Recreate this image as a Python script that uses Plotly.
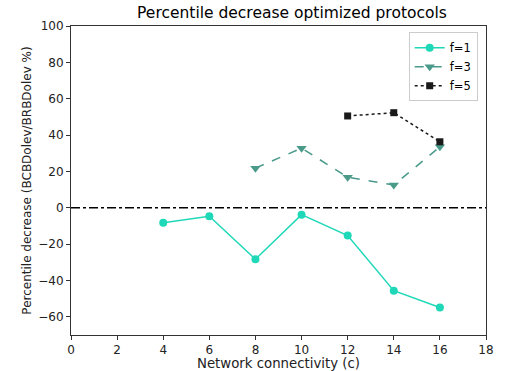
import plotly.graph_objects as go

x1 = [4, 6, 8, 10, 12, 14, 16]
f1 = [-8.3, -4.7, -28.3, -3.8, -15.3, -45.6, -54.9]
x3 = [8, 10, 12, 14, 16]
f3 = [21.8, 32.8, 16.8, 12.5, 33.5]
x5 = [12, 14, 16]
f5 = [50.5, 52.3, 36.3]
xticks = [0, 2, 4, 6, 8, 10, 12, 14, 16, 18]
yticks = [-60, -40, -20, 0, 20, 40, 60, 80, 100]

fig = go.Figure()
fig.add_trace(go.Scatter(x=[0, 18], y=[0, 0], mode="lines", showlegend=False,
                         line=dict(color="black", width=1.5, dash="dashdot"), hoverinfo="skip"))
fig.add_trace(go.Scatter(x=x1, y=f1, mode="lines+markers", name="f=1",
                         line=dict(color="#1fd8b8", width=1.5),
                         marker=dict(symbol="circle", size=8, color="#1fd8b8")))
fig.add_trace(go.Scatter(x=x3, y=f3, mode="lines+markers", name="f=3",
                         line=dict(color="#4a9a8a", width=1.5, dash="dash"),
                         marker=dict(symbol="triangle-down", size=9, color="#4a9a8a")))
fig.add_trace(go.Scatter(x=x5, y=f5, mode="lines+markers", name="f=5",
                         line=dict(color="#1a1a1a", width=1.5, dash="dot"),
                         marker=dict(symbol="square", size=7, color="#1a1a1a")))

axis_common = dict(showline=True, linecolor="#333333", linewidth=1, mirror=True,
                   ticks="outside", ticklen=4, tickcolor="#333333", showgrid=False,
                   zeroline=False, automargin=False,
                   tickfont=dict(family="DejaVu Sans", size=12, color="#222222"))
fig.update_layout(
    width=506, height=371,
    margin=dict(l=71, r=20, t=26, b=36),
    paper_bgcolor="white", plot_bgcolor="white",
    title=dict(text="Percentile decrease optimized protocols", x=0.577, xanchor="center",
               y=0.965, yanchor="middle",
               font=dict(family="DejaVu Sans", size=15.5, color="black")),
    xaxis=dict(range=[0, 18], tickvals=xticks, title=dict(text="Network connectivity (c)", standoff=2,
               font=dict(family="DejaVu Sans", size=13.3, color="#222222")), **axis_common),
    yaxis=dict(range=[-70, 100], tickvals=yticks, title=dict(text="Percentile decrease (BCBDolev/BRBDolev %)", standoff=4,
               font=dict(family="DejaVu Sans", size=12, color="#222222")), **axis_common),
    legend=dict(x=0.98, y=0.98, xanchor="right", yanchor="top", bordercolor="#cccccc", borderwidth=1,
                bgcolor="rgba(255,255,255,0.8)", font=dict(family="DejaVu Sans", size=11.5, color="black"),
                itemwidth=30, tracegroupgap=0),
    showlegend=True,
)
fig.write_html("out.html", config={"displayModeBar": False},
               post_script="document.body.style.margin='0';document.body.style.padding='0';")
